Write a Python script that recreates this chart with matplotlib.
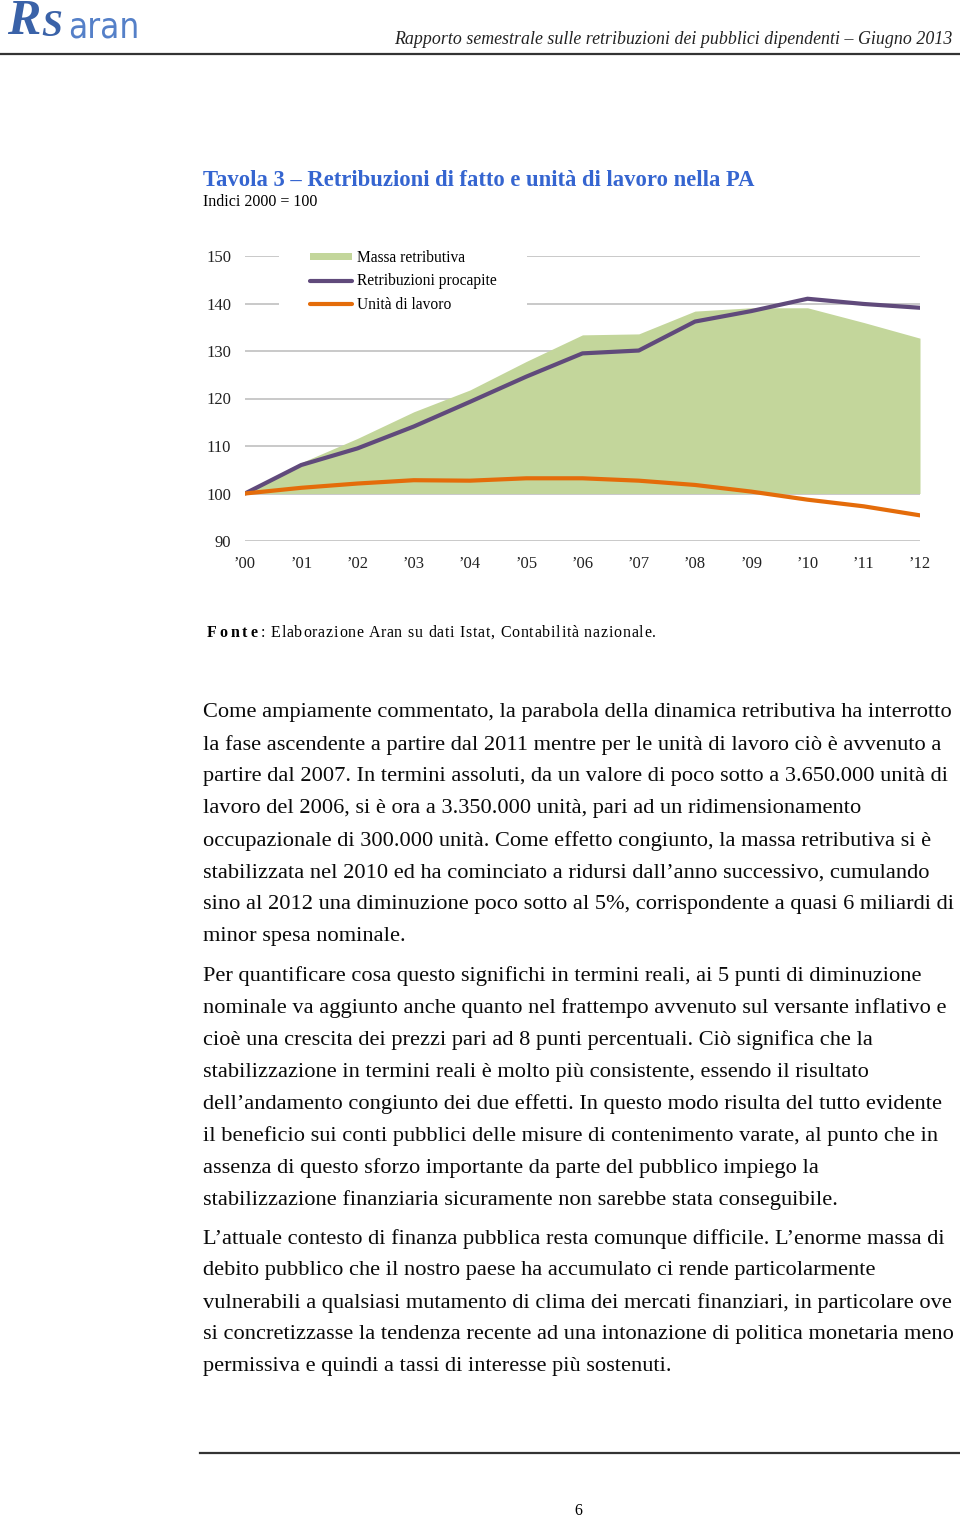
import matplotlib
matplotlib.use("Agg")
import matplotlib.pyplot as plt
from matplotlib.lines import Line2D
from matplotlib.patches import Patch
from matplotlib.font_manager import FontProperties

# Data (index 2000 = 100)
years = ["’00", "’01", "’02", "’03", "’04", "’05", "’06", "’07", "’08", "’09", "’10", "’11", "’12"]
massa = [100, 106.5, 111.6, 117.2, 121.8, 127.8, 133.4, 133.6, 138.4, 139.1, 139.1, 136.0, 132.7]
procapite = [100, 106.0, 109.5, 114.1, 119.3, 124.6, 129.5, 130.1, 136.2, 138.4, 141.0, 139.9, 139.1]
unita = [100, 101.2, 102.1, 102.8, 102.7, 103.2, 103.2, 102.7, 101.8, 100.4, 98.7, 97.3, 95.4]
yticks = [90, 100, 110, 120, 130, 140, 150]

par1 = [
    "Come ampiamente commentato, la parabola della dinamica retributiva ha interrotto",
    "la fase ascendente a partire dal 2011 mentre per le unità di lavoro ciò è avvenuto a",
    "partire dal 2007. In termini assoluti, da un valore di poco sotto a 3.650.000 unità di",
    "lavoro del 2006, si è ora a 3.350.000 unità, pari ad un ridimensionamento",
    "occupazionale di 300.000 unità. Come effetto congiunto, la massa retributiva si è",
    "stabilizzata nel 2010 ed ha cominciato a ridursi dall’anno successivo, cumulando",
    "sino al 2012 una diminuzione poco sotto al 5%, corrispondente a quasi 6 miliardi di",
    "minor spesa nominale.",
]
par2 = [
    "Per quantificare cosa questo significhi in termini reali, ai 5 punti di diminuzione",
    "nominale va aggiunto anche quanto nel frattempo avvenuto sul versante inflativo e",
    "cioè una crescita dei prezzi pari ad 8 punti percentuali. Ciò significa che la",
    "stabilizzazione in termini reali è molto più consistente, essendo il risultato",
    "dell’andamento congiunto dei due effetti. In questo modo risulta del tutto evidente",
    "il beneficio sui conti pubblici delle misure di contenimento varate, al punto che in",
    "assenza di questo sforzo importante da parte del pubblico impiego la",
    "stabilizzazione finanziaria sicuramente non sarebbe stata conseguibile.",
]
par3 = [
    "L’attuale contesto di finanza pubblica resta comunque difficile. L’enorme massa di",
    "debito pubblico che il nostro paese ha accumulato ci rende particolarmente",
    "vulnerabili a qualsiasi mutamento di clima dei mercati finanziari, in particolare ove",
    "si concretizzasse la tendenza recente ad una intonazione di politica monetaria meno",
    "permissiva e quindi a tassi di interesse più sostenuti.",
]

W, H = 960, 1517
SERIF = "Liberation Serif"
GREEN = "#c3d69b"
PURPLE = "#604a7b"
ORANGE = "#e46c0a"
BLUE = "#3565d0"

fig = plt.figure(figsize=(W / 100, H / 100), dpi=100)
fig.patch.set_facecolor("white")
renderer = fig.canvas.get_renderer()


def px(x, y):
    return x / W, 1 - y / H


def put(x, y, s, **kw):
    kw.setdefault("family", SERIF)
    return fig.text(*px(x, y), s, **kw)


def hline(x0, x1, y, lw, color):
    fig.add_artist(Line2D([x0 / W, x1 / W], [1 - y / H, 1 - y / H],
                          transform=fig.transFigure, lw=lw, color=color))


def text_w(s, size, weight="normal"):
    prop = FontProperties(family=SERIF, size=size, weight=weight)
    w, _, _ = renderer.get_text_width_height_descent(s + "|", prop, ismath=False)
    w0, _, _ = renderer.get_text_width_height_descent("|", prop, ismath=False)
    return w - w0


def spaced(x, y, s, size, extra, weight="normal"):
    # letter-spaced text, one character at a time
    for i, ch in enumerate(s):
        if ch != " ":
            put(x + text_w(s[:i], size, weight) + extra * i, y, ch,
                fontsize=size, fontweight=weight, va="center")
    return x + text_w(s, size, weight) + extra * len(s)


# header
put(7, 22, "R", fontsize=36, fontweight="bold", style="italic", color="#3a62a8", va="center")
put(41, 27, "S", fontsize=27, fontweight="bold", style="italic", color="#3a62a8", va="center")
fig.text(*px(68, 28), "aran", family="DejaVu Sans", fontstretch="condensed",
         fontsize=25, color="#5580c8", va="center")
put(952, 39, "Rapporto semestrale sulle retribuzioni dei pubblici dipendenti – Giugno 2013",
    fontsize=12.9, style="italic", color="#222222", ha="right", va="center")
hline(0, 960, 54, 1.6, "#333333")

# title
put(203, 180, "Tavola 3 – Retribuzioni di fatto e unità di lavoro nella PA",
    fontsize=16.3, fontweight="bold", color=BLUE, va="center")
put(203, 202, "Indici 2000 = 100", fontsize=11.5, va="center")

# chart
ax = fig.add_axes([245 / W, 1 - 541 / H, 675 / W, 285 / H])
x = list(range(len(years)))
ax.fill_between(x, 100, massa, color=GREEN, lw=0, zorder=2)
ax.plot(x, procapite, color=PURPLE, lw=3, solid_joinstyle="round",
        solid_capstyle="round", zorder=3)
ax.plot(x, unita, color=ORANGE, lw=3, solid_joinstyle="round",
        solid_capstyle="round", zorder=4)
ax.set_xlim(0, 12)
ax.set_ylim(90, 150)
ax.set_yticks(yticks)
ax.set_xticks(x)
ax.set_xticklabels(years)
ax.grid(axis="y", color="#c0c0c0", lw=1.2, zorder=0)
ax.set_axisbelow(True)
for s in ax.spines.values():
    s.set_visible(False)
ax.tick_params(length=0, labelsize=12, colors="#222222")
ax.tick_params(axis="y", pad=10)
ax.tick_params(axis="x", pad=11)
for lab in ax.get_xticklabels() + ax.get_yticklabels():
    lab.set_family(SERIF)

handles = [Patch(color=GREEN, lw=0),
           Line2D([], [], color=PURPLE, lw=3, solid_capstyle="round"),
           Line2D([], [], color=ORANGE, lw=3, solid_capstyle="round")]
labels = ["Massa retributiva", "Retribuzioni procapite", "Unità di lavoro"]
leg = ax.legend(handles, labels, loc="upper left", bbox_to_anchor=(0.05, 1.13),
                frameon=True, facecolor="white", edgecolor="none", framealpha=1,
                fancybox=False, borderpad=2.0, labelspacing=0.47, handlelength=2.7,
                handleheight=0.35, handletextpad=0.3, borderaxespad=0,
                prop={"family": SERIF, "size": 11.2})
leg.set_zorder(5)

# source
xe = spaced(207, 633, "Fonte", 11.5, 2.8, weight="bold")
spaced(xe + 1, 633, ": Elaborazione Aran su dati Istat, Contabilità nazionale.", 11.5, 0.75)

# body text
for start, lines in [(713, par1), (976, par2), (1239, par3)]:
    for i, line in enumerate(lines):
        put(203, start + 32 * i, line, fontsize=16.15, color="#0a0a0a", va="center")

# footer
hline(200, 960, 1453, 1.6, "#333333")
put(578, 1511, "6", fontsize=11.5, ha="center", va="center")

fig.savefig("out.png", dpi=100, facecolor="white")
